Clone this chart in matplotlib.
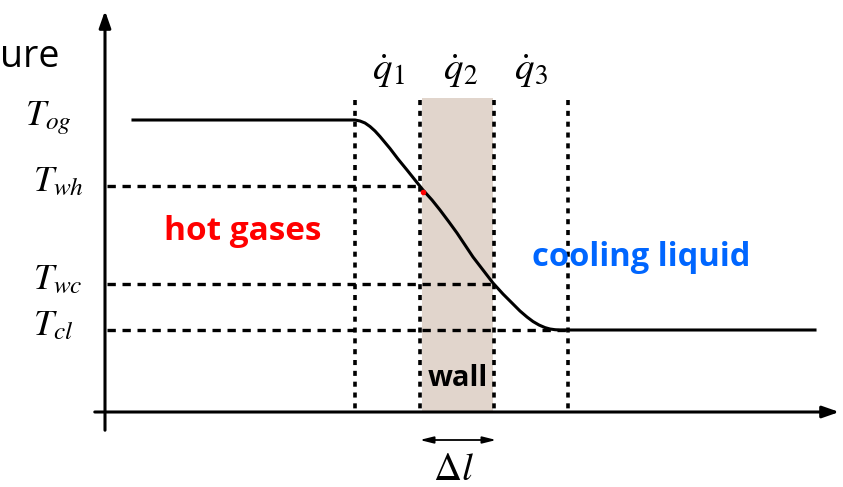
import matplotlib
matplotlib.use("Agg")
import matplotlib.pyplot as plt

plt.rcParams['mathtext.fontset'] = 'stix'

# schematic coordinates (x = distance, y = temperature, drawn downwards as in the figure)
x_bounds = [355, 420, 494, 568]          # q1 start, hot wall face, cold wall face, q3 end
wall = [422, 493]
T_names = [r'$T_{og}$', r'$T_{wh}$', r'$T_{wc}$', r'$T_{cl}$']
T_levels = [120, 186, 284, 330]
T_dash_end = [None, 420, 494, 568]
q_names = [r'$\dot{q}_1$', r'$\dot{q}_2$', r'$\dot{q}_3$']
q_x = [388, 460, 531]

profile_x = [133, 355, 360, 365, 370, 375, 380, 385, 390, 398, 407, 415, 423, 432,
             440, 449, 457, 465, 473, 483, 493, 503, 513, 520, 527, 533, 539, 545,
             550, 555, 560, 568, 815]
profile_y = [120, 120, 121, 123, 126.5, 131, 136.5, 142.5, 148.5, 159, 170, 180, 190,
             200, 210, 222, 233, 245, 257, 270, 283, 294, 304, 311, 317, 321.5, 325,
             327.6, 329, 329.7, 330, 330, 330]

W, H = 843, 487
fig = plt.figure(figsize=(W / 100, H / 100), dpi=100)
ax = fig.add_axes([0, 0, 1, 1])
ax.set_xlim(0, W)
ax.set_ylim(H, 0)
ax.axis('off')

x0, y0 = 105, 412  # origin

# wall shading
ax.fill_between(wall, 98, y0, color='#e1d5cc', lw=0, zorder=0)

# axes arrows
ax.annotate('', xy=(x0, 8), xytext=(x0, 433),
            arrowprops=dict(arrowstyle='-|>,head_length=1.0,head_width=0.35', lw=2.2, color='black'))
ax.annotate('', xy=(842, y0), xytext=(92, y0),
            arrowprops=dict(arrowstyle='-|>,head_length=1.0,head_width=0.35', lw=2.2, color='black'))

# vertical dotted boundaries
for xb in x_bounds:
    ax.plot([xb, xb], [100, y0], color='black', lw=2.6, ls=(0, (1.4, 1.6)), zorder=2)

# horizontal dashed levels
for lvl, xe in zip(T_levels, T_dash_end):
    if xe is not None:
        ax.plot([x0 + 2, xe], [lvl, lvl], color='black', lw=2.4, ls=(0, (2.5, 2.0)), zorder=2)

# temperature profile
ax.plot(profile_x, profile_y, color='black', lw=2.2, zorder=3, solid_joinstyle='round')
ax.plot([423], [192], marker='o', ms=3, color='red', zorder=4)

# labels
T_lx = [25, 33, 33, 33]
for name, lvl, lx in zip(T_names, T_levels, T_lx):
    ax.text(lx, lvl + 5, name, fontsize=26, ha='left', va='baseline', color='black')
for name, qx in zip(q_names, q_x):
    ax.text(qx, 80, name, fontsize=28, ha='center', va='baseline')

# axis title, cut by the left edge in the source figure
ax.text(0, 67, 'ure', fontsize=27, family='Open Sans', ha='left', va='baseline')
ax.text(243, 231, 'hot gases', fontsize=24, family='Open Sans', weight='bold',
        color='#ff0000', ha='center', va='center')
ax.text(641, 257, 'cooling liquid', fontsize=23.5, family='Open Sans', weight='bold',
        color='#0066ff', ha='center', va='center')
ax.text(458, 378, 'wall', fontsize=21, family='Open Sans', weight='bold',
        color='black', ha='center', va='center')

# wall thickness arrow
ax.annotate('', xy=(417, 440), xytext=(499, 440),
            arrowprops=dict(arrowstyle='<|-|>,head_length=0.8,head_width=0.2', lw=1.3, color='black'))
ax.text(453, 480, r'$\Delta l$', fontsize=28, ha='center', va='baseline')

fig.savefig('out.png', dpi=100)
